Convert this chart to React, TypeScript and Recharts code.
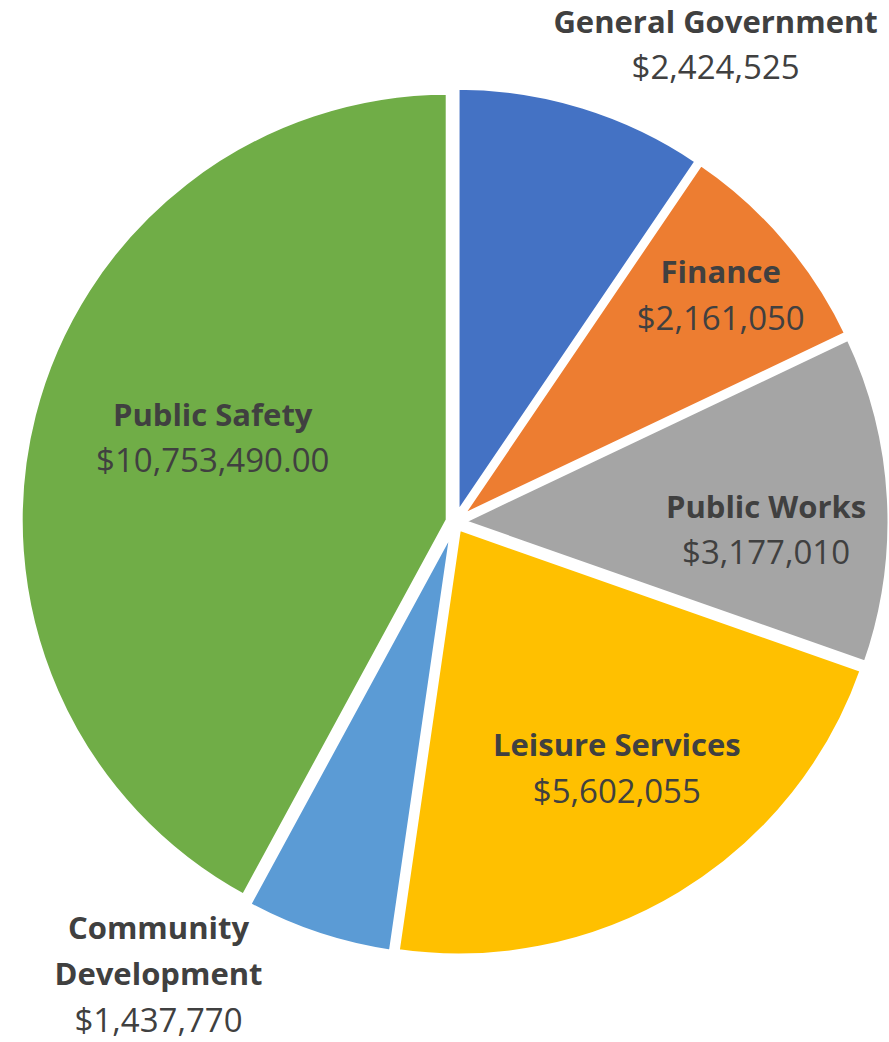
import React from 'react';
import { PieChart, Pie, Cell, Sector } from 'recharts';

const categories = [
  'General Government',
  'Finance',
  'Public Works',
  'Leisure Services',
  'Community Development',
  'Public Safety',
];
const budgets = [2424525, 2161050, 3177010, 5602055, 1437770, 10753490];
const valueDecimals = [0, 0, 0, 0, 0, 2];
const colors = ['#4472C4', '#ED7D31', '#A5A5A5', '#FFC000', '#5B9BD5', '#70AD47'];

// label placement: [distance as a multiple of the outer radius, angle shift in degrees]
const labelPlacement: [number, number][] = [
  [1.273, -11.5],
  [0.818, 0],
  [0.727, -4.3],
  [0.687, 2.2],
  [1.262, -14.9],
  [0.6, -5.1],
];
const labelWrap = [false, false, false, false, true, false];

const data = categories.map((name, i) => ({ name, value: budgets[i] }));

const RADIAN = Math.PI / 180;
const EXPLODE = 7;
const FONT = '"Open Sans", sans-serif';
const NAME_SIZE = 31;
const VALUE_SIZE = 33;
const LINE = 46;
const TEXT_COLOR = '#404040';

const fmt = (v: number, d: number) =>
  '$' + v.toLocaleString('en-US', { minimumFractionDigits: d, maximumFractionDigits: d });

const renderSlice = (props: any) => {
  const { cx, cy, midAngle } = props;
  const dx = EXPLODE * Math.cos(-midAngle * RADIAN);
  const dy = EXPLODE * Math.sin(-midAngle * RADIAN);
  return <Sector {...props} cx={cx + dx} cy={cy + dy} />;
};

const renderLabel = (props: any) => {
  const { cx, cy, midAngle, outerRadius, index } = props;
  const [rf, shift] = labelPlacement[index];
  const a = (midAngle + shift) * RADIAN;
  const r = outerRadius * rf;
  const x = cx + r * Math.cos(-a);
  const y = cy + r * Math.sin(-a);
  const name = categories[index];
  const nameLines = labelWrap[index] ? name.split(' ') : [name];
  const lines = [
    ...nameLines.map((t) => ({ t, bold: true })),
    { t: fmt(budgets[index], valueDecimals[index]), bold: false },
  ];
  const n = lines.length;
  return (
    <g key={`lbl-${index}`}>
      {lines.map((ln, i) => (
        <text
          key={i}
          x={x}
          y={y + (i - (n - 1) / 2) * LINE}
          textAnchor="middle"
          dominantBaseline="central"
          fill={TEXT_COLOR}
          fontFamily={FONT}
          fontSize={ln.bold ? NAME_SIZE : VALUE_SIZE}
          fontWeight={ln.bold ? 700 : 400}
        >
          {ln.t}
        </text>
      ))}
    </g>
  );
};

export default function App() {
  return (
    <div style={{ position: 'absolute', left: 0, top: 0, width: 889, height: 1042, background: '#fff' }}>
      <PieChart width={889} height={1042} margin={{ top: 0, right: 0, bottom: 0, left: 0 }}>
        <Pie
          data={data}
          dataKey="value"
          nameKey="name"
          cx={455}
          cy={522}
          outerRadius={428}
          startAngle={90}
          endAngle={-270}
          stroke="#ffffff"
          strokeWidth={5}
          isAnimationActive={false}
          labelLine={false}
          label={renderLabel}
          shape={renderSlice}
        >
          {data.map((d, i) => (
            <Cell key={d.name} fill={colors[i]} />
          ))}
        </Pie>
      </PieChart>
    </div>
  );
}
